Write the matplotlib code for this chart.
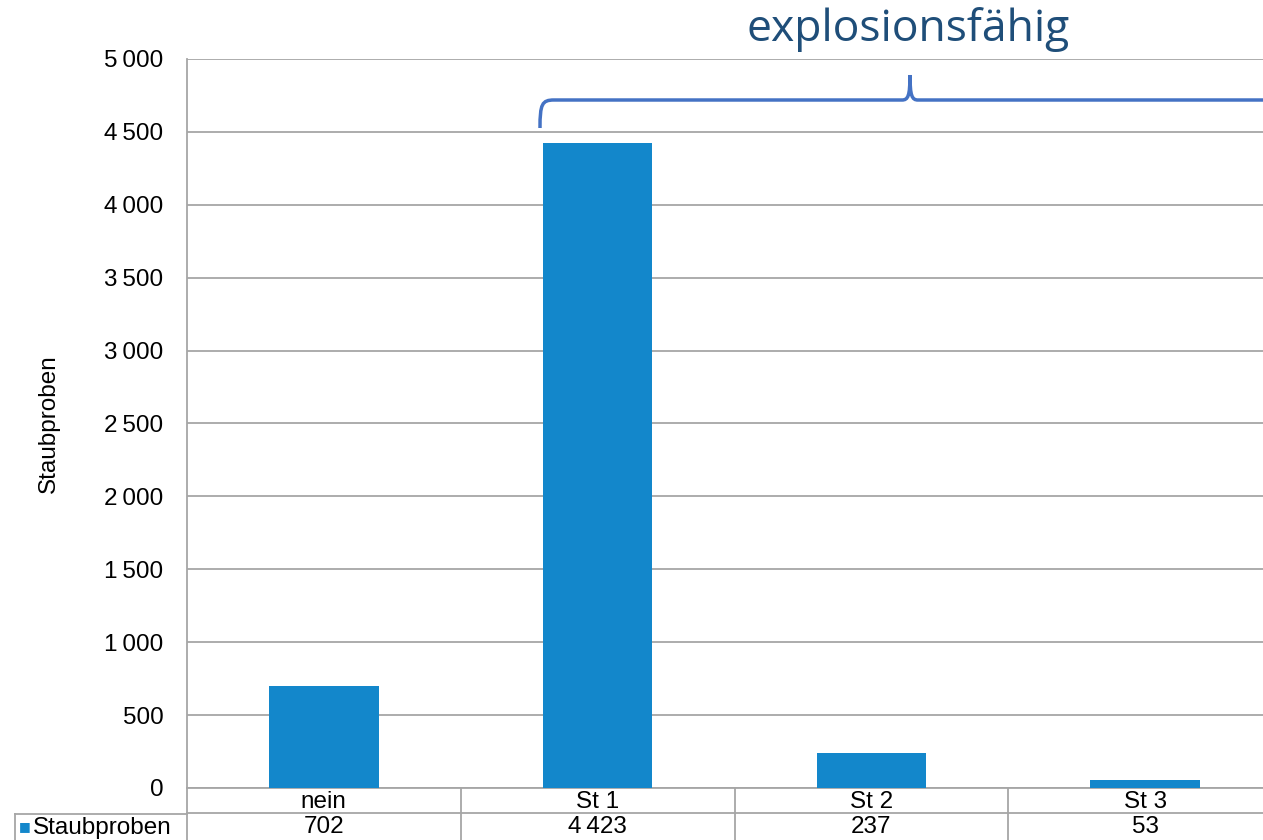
import matplotlib
matplotlib.use('Agg')
import matplotlib.pyplot as plt
from matplotlib.path import Path
from matplotlib.patches import PathPatch

plt.rcParams['font.family'] = ['Liberation Sans', 'DejaVu Sans']

categories = ['nein', 'St 1', 'St 2', 'St 3']
values = [702, 4423, 237, 53]
value_labels = ['702', '4\u2009423', '237', '53']
yticks = [0, 500, 1000, 1500, 2000, 2500, 3000, 3500, 4000, 4500, 5000]
ytick_labels = ['0', '500', '1\u2009000', '1\u2009500', '2\u2009000', '2\u2009500',
                '3\u2009000', '3\u2009500', '4\u2009000', '4\u2009500', '5\u2009000']
series_name = 'Staubproben'
bracket_label = 'explosionsfähig'

bar_color = '#1387cb'
grid_color = '#a6a6a6'
fs = 17.5

W, H = 1263, 840
fig = plt.figure(figsize=(W / 100, H / 100), dpi=100)

# plot area runs past the right edge like in the cropped original
left, right, bottom, top = 187, 1282, 840 - 788, 840 - 59
ax = fig.add_axes([left / W, bottom / H, (right - left) / W, (top - bottom) / H])

x = range(len(categories))
ax.bar(x, values, width=0.4, color=bar_color, zorder=3)
ax.set_xlim(-0.5, len(categories) - 0.5)
ax.set_ylim(0, 5000)
ax.set_yticks(yticks)
ax.set_yticklabels(ytick_labels, fontsize=fs)
ax.set_xticks([])
ax.tick_params(axis='y', length=0, pad=17)
ax.grid(axis='y', color=grid_color, linewidth=1.3, zorder=0)
for s in ['top', 'right', 'bottom']:
    ax.spines[s].set_visible(False)
ax.spines['left'].set_color(grid_color)
ax.spines['left'].set_linewidth(1.3)
ax.set_ylabel(series_name, fontsize=17.5, labelpad=32)

# data table under the axis
row1 = -0.034   # axes fraction per row (~25px)
trans = ax.get_xaxis_transform()
ax.plot([-0.5, len(categories) - 0.5], [0, 0], transform=trans, color=grid_color,
        lw=1.3, clip_on=False)
ax.plot([-0.5, len(categories) - 0.5], [row1, row1], transform=trans, color=grid_color,
        lw=1.3, clip_on=False)
for i in range(len(categories) + 1):
    ax.plot([i - 0.5, i - 0.5], [0, -0.2], transform=trans, color=grid_color,
            lw=1.3, clip_on=False)
for i, (c, v) in enumerate(zip(categories, value_labels)):
    ax.text(i, row1 / 2 - 0.002, c, transform=trans, ha='center', va='center', fontsize=fs)
    ax.text(i, row1 * 1.5 - 0.002, v, transform=trans, ha='center', va='center', fontsize=fs)

# left cell of the table with legend key
fig.add_artist(plt.Line2D([15 / W, left / W], [(840 - 814) / H, (840 - 814) / H],
                          color=grid_color, lw=1.3))
fig.add_artist(plt.Line2D([15 / W, 15 / W], [0, (840 - 814) / H],
                          color=grid_color, lw=1.3))
fig.text(19 / W, (840 - 827) / H, '\u25a0', color=bar_color, fontsize=9,
         ha='left', va='center', family='DejaVu Sans')
fig.text(33 / W, (840 - 828) / H, series_name, fontsize=fs, ha='left', va='center')

# curly bracket over the explosive classes
def fx(px):
    return px / W

def fy(py):
    return (H - py) / H

bx0, bx1, bmid = 540, 1300, 910
by_low, by_line, by_tip = 128, 100, 75
verts = [
    (fx(bx0), fy(by_low)),
    (fx(bx0), fy(by_line + 4)), (fx(bx0 + 2), fy(by_line)), (fx(bx0 + 14), fy(by_line)),
    (fx(bmid - 8), fy(by_line)),
    (fx(bmid - 2), fy(by_line)), (fx(bmid), fy(by_line - 4)), (fx(bmid), fy(by_tip)),
    (fx(bmid), fy(by_line - 4)), (fx(bmid + 2), fy(by_line)), (fx(bmid + 8), fy(by_line)),
    (fx(bx1), fy(by_line)),
]
codes = [Path.MOVETO, Path.CURVE4, Path.CURVE4, Path.CURVE4, Path.LINETO,
         Path.CURVE4, Path.CURVE4, Path.CURVE4, Path.CURVE4, Path.CURVE4, Path.CURVE4,
         Path.LINETO]
fig.add_artist(PathPatch(Path(verts, codes), transform=fig.transFigure, fill=False,
                         edgecolor='#4472c4', lw=2.5))

fig.text(fx(908), fy(30), bracket_label, fontsize=32, color='#1f4e79',
         ha='center', va='center', family=['Open Sans', 'DejaVu Sans'])

fig.savefig('out.png', dpi=100)
